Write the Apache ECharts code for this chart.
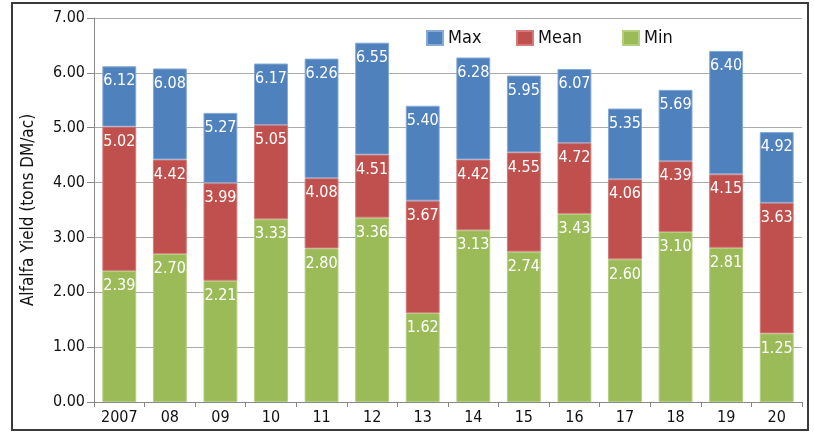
<!DOCTYPE html>
<html>
<head>
<meta charset="utf-8">
<script src="https://cdn.jsdelivr.net/npm/echarts@6/dist/echarts.min.js"></script>
<style>
  html, body { margin: 0; padding: 0; background: #fff; }
  #chart { width: 814px; height: 433px; }
</style>
</head>
<body>
<div id="chart"></div>
<script>
const years = ['2007', '08', '09', '10', '11', '12', '13', '14', '15', '16', '17', '18', '19', '20'];
const maxYield = [6.12, 6.08, 5.27, 6.17, 6.26, 6.55, 5.40, 6.28, 5.95, 6.07, 5.35, 5.69, 6.40, 4.92];
const meanYield = [5.02, 4.42, 3.99, 5.05, 4.08, 4.51, 3.67, 4.42, 4.55, 4.72, 4.06, 4.39, 4.15, 3.63];
const minYield = [2.39, 2.70, 2.21, 3.33, 2.80, 3.36, 1.62, 3.13, 2.74, 3.43, 2.60, 3.10, 2.81, 1.25];

// stacked segments: min, then mean-min, then max-mean
const meanPart = meanYield.map((v, i) => +(v - minYield[i]).toFixed(2));
const maxPart = maxYield.map((v, i) => +(v - meanYield[i]).toFixed(2));

const narrow = "'DejaVu Sans Condensed', 'DejaVu Sans', sans-serif";

function segLabel(source) {
  return {
    show: true,
    position: 'insideTop',
    distance: 7,
    color: '#fff',
    fontSize: 16,
    fontFamily: narrow,
    formatter: p => source[p.dataIndex].toFixed(2)
  };
}

// one legend per item so each sits where the original puts it
function legendAt(name, left) {
  return {
    data: [name],
    left: left,
    top: 24,
    icon: 'rect',
    itemWidth: 16,
    itemHeight: 14,
    itemGap: 5,
    textStyle: { fontSize: 18, fontFamily: narrow, color: '#111', padding: [0, 0, 0, 0] }
  };
}

const chart = echarts.init(document.getElementById('chart'));
chart.setOption({
  animation: false,
  graphic: [{
    type: 'rect',
    shape: { x: 12, y: 3, width: 796, height: 427 },
    style: { fill: 'none', stroke: '#3a3a3a', lineWidth: 2 }
  }],
  legend: [legendAt('Max', 421), legendAt('Mean', 511), legendAt('Min', 617)],
  grid: { left: 94, right: 12, top: 18, bottom: 31 },
  xAxis: {
    type: 'category',
    data: years,
    axisLine: { lineStyle: { color: '#888' } },
    axisTick: { show: true, length: 5, lineStyle: { color: '#888' } },
    axisLabel: { interval: 0, fontSize: 16, fontFamily: narrow, color: '#111', margin: 8 }
  },
  yAxis: {
    type: 'value',
    min: 0,
    max: 7,
    interval: 1,
    name: 'Alfalfa Yield (tons DM/ac)',
    nameLocation: 'middle',
    nameGap: 57,
    nameTextStyle: { fontSize: 17, fontFamily: narrow, color: '#111' },
    axisLine: { show: true, lineStyle: { color: '#888' } },
    axisTick: { show: true, length: 7, lineStyle: { color: '#888' } },
    axisLabel: { fontSize: 16, fontFamily: narrow, color: '#111', margin: 9, formatter: v => v.toFixed(2) },
    splitLine: { lineStyle: { color: '#aaa' } }
  },
  series: [
    {
      name: 'Min', type: 'bar', stack: 'y', data: minYield, barWidth: '67%',
      itemStyle: { color: '#9BBB59', borderColor: '#b4cf80', borderWidth: 1 },
      label: segLabel(minYield)
    },
    {
      name: 'Mean', type: 'bar', stack: 'y', data: meanPart,
      itemStyle: { color: '#C0504D', borderColor: '#d27b78', borderWidth: 1 },
      label: segLabel(meanYield)
    },
    {
      name: 'Max', type: 'bar', stack: 'y', data: maxPart,
      itemStyle: { color: '#4F81BD', borderColor: '#86a9d6', borderWidth: 1 },
      label: segLabel(maxYield)
    }
  ]
});
</script>
</body>
</html>
